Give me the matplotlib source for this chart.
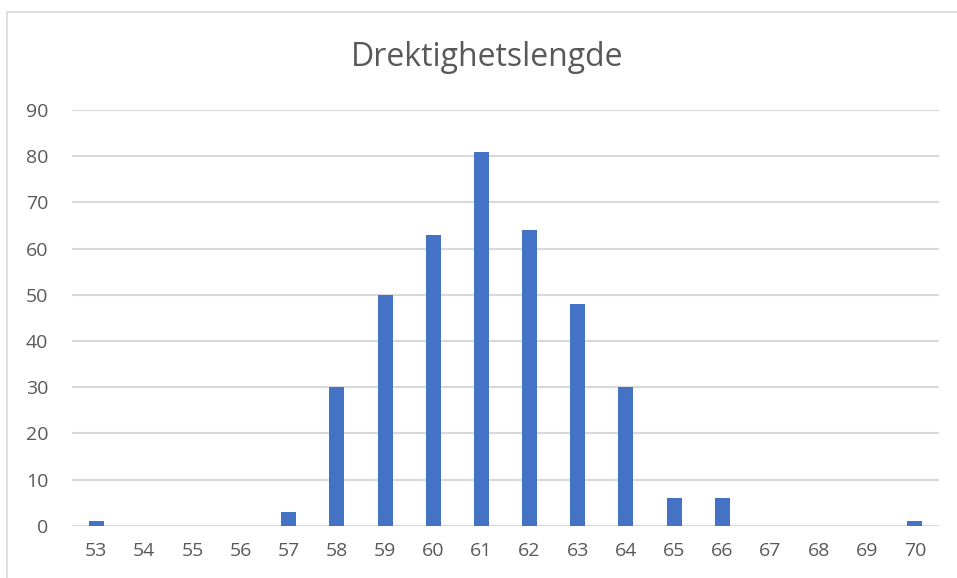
import matplotlib
matplotlib.use("Agg")
import matplotlib.pyplot as plt
from matplotlib.patches import Rectangle

# gestation length (days) and count
days = [53, 54, 55, 56, 57, 58, 59, 60, 61, 62, 63, 64, 65, 66, 67, 68, 69, 70]
counts = [1, 0, 0, 0, 3, 30, 50, 63, 81, 64, 48, 30, 6, 6, 0, 0, 0, 1]
yticks = list(range(0, 100, 10))

plt.rcParams["font.family"] = ["Open Sans", "DejaVu Sans"]
text_col = "#595959"
grid_col = "#D9D9D9"

fig = plt.figure(figsize=(9.57, 5.78), dpi=100)
ax = fig.add_axes([72 / 957, 1 - 525.7 / 578, (939 - 72) / 957, (525.7 - 110) / 578])

x = list(range(len(days)))
ax.bar(x, counts, width=0.31, color="#4472C4", zorder=3)

ax.set_xlim(-0.5, len(days) - 0.5)
ax.set_ylim(0, 90)
ax.set_xticks(x)
ax.set_xticklabels([str(d) for d in days])
ax.set_yticks(yticks)
for s in ax.spines.values():
    s.set_visible(False)
ax.tick_params(length=0, labelsize=14, colors=text_col)
ax.tick_params(axis="x", pad=12)
ax.tick_params(axis="y", pad=17)
ax.yaxis.grid(True, color=grid_col, linewidth=1.5, zorder=0)
ax.set_axisbelow(True)

fig.text(487 / 957, 1 - 57 / 578, "Drektighetslengde", ha="center", va="center",
         fontsize=23, color=text_col)

# chart-area border
fig.patches.append(Rectangle((7 / 957, -0.1), 1.2, 1 - 12 / 578 + 0.1,
                             transform=fig.transFigure, fill=False,
                             edgecolor=grid_col, linewidth=1.2))

plt.savefig("out.png")
